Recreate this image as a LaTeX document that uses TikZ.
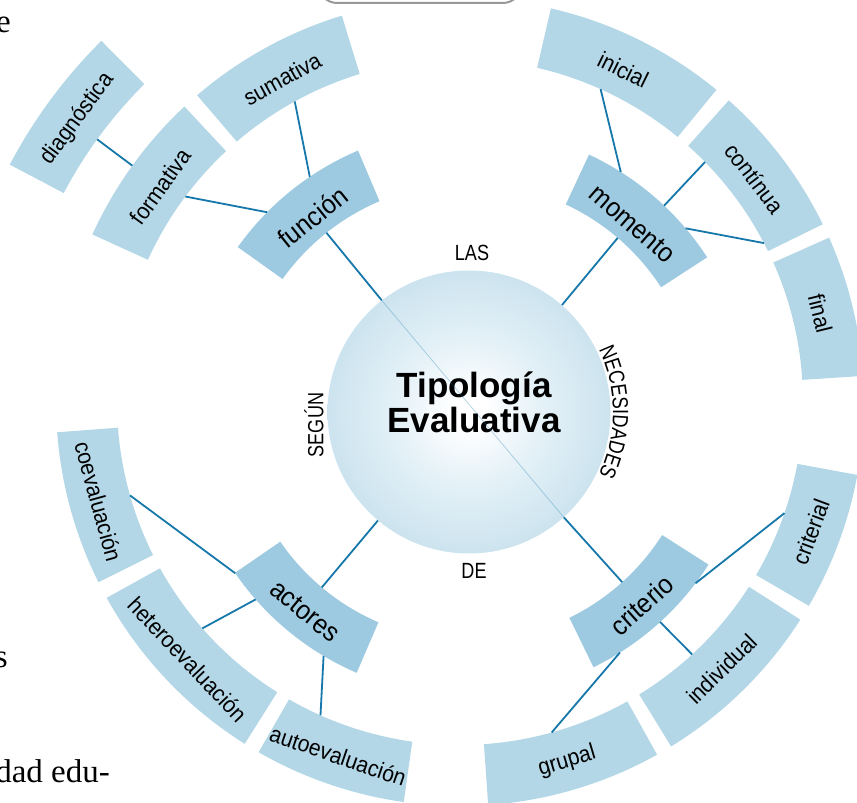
\documentclass[tikz,border=0pt]{standalone}
\usepackage{fontspec}
\setmainfont{Liberation Sans}
\newfontfamily\narrowfont[FakeStretch=0.82]{Liberation Sans}
\newfontfamily\labfont[FakeStretch=0.92]{Liberation Sans}
\newfontfamily\pagefont{Liberation Serif}
\usetikzlibrary{calc,decorations.text}
\definecolor{leafblue}{HTML}{B3D7E7}
\definecolor{catblue}{HTML}{9DCAE0}
\definecolor{linkblue}{HTML}{1577AA}
\definecolor{edgeblue}{HTML}{9CCADF}
\definecolor{midblue}{HTML}{C2DEEB}
\definecolor{innerblue}{HTML}{E6F2F8}
\pgfdeclareradialshading{coreshade}{\pgfpoint{0bp}{0bp}}{color(0bp)=(white); color(3bp)=(white); color(12bp)=(innerblue); color(30bp)=(midblue); color(50bp)=(edgeblue)}
\newcommand\drawsector[6]{%
  \path[#1] ($(#2)+(#5:#3)$) arc[start angle=#5, end angle=#6, radius=#3]
    -- ($(#2)+(#6:#4)$) arc[start angle=#6, end angle=#5, radius=#4] -- cycle;}
\newcommand\setpt[4]{\coordinate (#1) at ($(#2)+(#3:#4)$);}
\begin{document}
\begin{tikzpicture}[x=1pt,y=1pt,
  leaf/.style={fill=leafblue},
  catsec/.style={fill=catblue},
  link/.style={draw=linkblue, line width=1.8pt},
  lab/.style={font=\labfont\fontsize{23}{23}\selectfont, inner sep=0pt},
  catlab/.style={font=\labfont\fontsize{27}{27}\selectfont, inner sep=0pt},
  conn/.style={font=\narrowfont\fontsize{22}{22}\selectfont, inner sep=0pt},
  pagetext/.style={font=\pagefont\fontsize{33}{33}\selectfont, inner sep=0pt}]
\useasboundingbox (0,0) rectangle (857,803);
\clip (0,0) rectangle (857,803);
\coordinate (C) at (469,391);
\coordinate (D) at (460,401);

% page fragments
\draw[black!40, line width=2pt, rounded corners=18pt] (319,800) rectangle (521,850);
\node[pagetext, anchor=base east] (pe) at (11,770) {e};
\node[pagetext, anchor=base east] (ps) at (8,135) {s};
\node[pagetext, anchor=base east] (pd) at (110,20) {dad edu-};

% outer sectors
\drawsector{leaf}{D}{343pt}{404pt}{107}{130.6}
\drawsector{leaf}{D}{343pt}{404pt}{133}{155.5}
\drawsector{leaf}{D}{448pt}{509pt}{134.8}{152.2}
\drawsector{leaf}{D}{343pt}{404pt}{50.6}{77}
\drawsector{leaf}{D}{343pt}{404pt}{26.1}{48.3}
\drawsector{leaf}{D}{343pt}{404pt}{3.7}{24}
\drawsector{leaf}{D}{343pt}{404pt}{-30.3}{-10.4}
\drawsector{leaf}{D}{343pt}{404pt}{-58.5}{-32.6}
\drawsector{leaf}{D}{343pt}{404pt}{-86}{-60.8}
\drawsector{leaf}{D}{343pt}{404pt}{240.1}{262}
\drawsector{leaf}{D}{343pt}{404pt}{209}{237.8}
\drawsector{leaf}{D}{343pt}{404pt}{184.3}{206.5}

% category sectors
\drawsector{catsec}{C}{229pt}{284pt}{113}{144.5}
\drawsector{catsec}{C}{229pt}{284pt}{33}{65}
\drawsector{catsec}{C}{229pt}{284pt}{-64}{-32.5}
\drawsector{catsec}{C}{229pt}{284pt}{214.5}{246.7}

% centre
\node[circle, minimum size=283pt, inner sep=0pt, shading=coreshade] (core) at (C) {};
\node[font=\bfseries\fontsize{35}{35}\selectfont, align=center, inner sep=0pt] (title) at (474,401) {Tipología\\Evaluativa};

% connector words
\node[conn] (las) at (472,550) {LAS};
\node[conn] (de) at (474,232) {DE};
\node[conn, rotate=90] (segun) at (314,378) {SEGÚN};
\path[decorate, decoration={text along path, text align=center,
  text={|\narrowfont\fontsize{22}{22}\selectfont|NECESIDADES}}]
  ($(C)+(40:144pt)$) arc[start angle=40, end angle=-40, radius=144pt];

% category labels
\node[catlab, rotate=38.75] (funcion) at ($(C)+(128.75:250pt)$) {función};
\node[catlab, rotate=-41] (momento) at ($(C)+(49:249pt)$) {momento};
\node[catlab, rotate=41.75] (criterio) at ($(C)+(-48.25:259pt)$) {criterio};
\node[catlab, rotate=-39.4] (actores) at ($(C)+(230.6:258pt)$) {actores};

% leaf labels
\node[lab, rotate=28.8] (sumativa) at ($(D)+(118.8:369pt)$) {sumativa};
\node[lab, rotate=54.25] (formativa) at ($(D)+(144.25:369pt)$) {formativa};
\node[lab, rotate=53.5] (diagnostica) at ($(D)+(143.5:476pt)$) {diagnóstica};
\node[lab, rotate=-26.2] (inicial) at ($(D)+(63.8:370pt)$) {inicial};
\node[lab, rotate=-52.8] (continua) at ($(D)+(37.2:370pt)$) {contínua};
\node[lab, rotate=-76.15] (final) at ($(D)+(13.85:371pt)$) {final};
\node[lab, rotate=69.65] (criterial) at ($(D)+(-20.35:374pt)$) {criterial};
\node[lab, rotate=44.45] (individual) at ($(D)+(-45.55:374pt)$) {individual};
\node[lab, rotate=16.6] (grupal) at ($(D)+(-73.4:375pt)$) {grupal};
\node[lab, rotate=-19] (auto) at ($(D)+(251:374pt)$) {autoevaluación};
\node[lab, rotate=-46.6] (hetero) at ($(D)+(223.4:375pt)$) {heteroevaluación};
\node[lab, rotate=-74.6] (coev) at ($(D)+(195.4:375pt)$) {coevaluación};

% connector end points
\setpt{funcion-in}{C}{128.5}{229pt}
\setpt{momento-in}{C}{49.5}{229pt}
\setpt{criterio-in}{C}{-48}{229pt}
\setpt{actores-in}{C}{230}{229pt}
\setpt{funcion-o1}{C}{124.1}{284pt}
\setpt{funcion-o2}{C}{135.3}{284pt}
\setpt{sumativa-in}{D}{118.8}{343pt}
\setpt{formativa-in}{D}{143.2}{343pt}
\setpt{formativa-out}{D}{144.2}{404pt}
\setpt{diagnostica-in}{D}{144.1}{448pt}
\setpt{momento-o1}{C}{57.7}{284pt}
\setpt{momento-o2}{C}{46.6}{284pt}
\setpt{momento-o3}{C}{40.3}{284pt}
\setpt{inicial-in}{D}{65.8}{343pt}
\setpt{continua-in}{D}{44.4}{343pt}
\setpt{final-in}{D}{27.6}{343pt}
\setpt{criterio-o1}{C}{-37.1}{284pt}
\setpt{criterio-o2}{C}{-47.7}{284pt}
\setpt{criterio-o3}{C}{-57.9}{284pt}
\setpt{criterial-in}{D}{-18.9}{343pt}
\setpt{individual-in}{D}{-47.4}{343pt}
\setpt{grupal-in}{D}{-74.5}{343pt}
\setpt{actores-o1}{C}{214.6}{284pt}
\setpt{actores-o2}{C}{221.3}{284pt}
\setpt{actores-o3}{C}{239.2}{284pt}
\setpt{coev-in}{D}{195.8}{343pt}
\setpt{hetero-in}{D}{221.3}{343pt}
\setpt{auto-in}{D}{246}{343pt}

% connectors
\draw[linkblue, opacity=0.3, line width=0.8pt] (core.128.5) -- (core.-48);
\draw[link] (core.128.5) -- (funcion-in);
\draw[link] (core.49.5) -- (momento-in);
\draw[link] (core.-48) -- (criterio-in);
\draw[link] (core.230) -- (actores-in);
\draw[link] (funcion-o1) -- (sumativa-in);
\draw[link] (funcion-o2) -- (formativa-in);
\draw[link] (formativa-out) -- (diagnostica-in);
\draw[link] (momento-o1) -- (inicial-in);
\draw[link] (momento-o2) -- (continua-in);
\draw[link] (momento-o3) -- (final-in);
\draw[link] (criterio-o1) -- (criterial-in);
\draw[link] (criterio-o2) -- (individual-in);
\draw[link] (criterio-o3) -- (grupal-in);
\draw[link] (actores-o1) -- (coev-in);
\draw[link] (actores-o2) -- (hetero-in);
\draw[link] (actores-o3) -- (auto-in);
\end{tikzpicture}
\end{document}
